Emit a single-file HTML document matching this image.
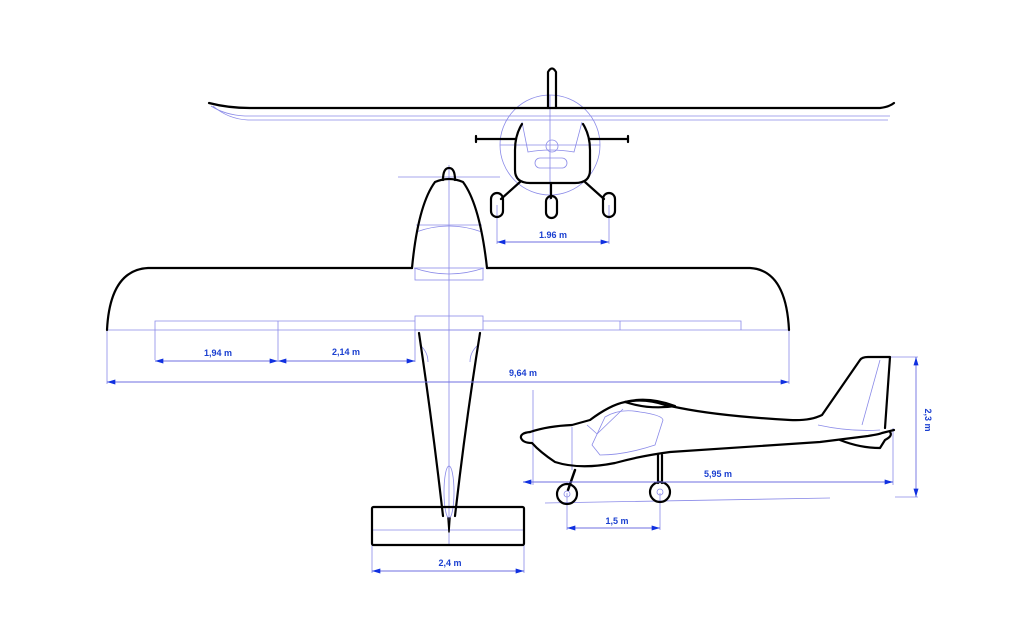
<!DOCTYPE html>
<html><head><meta charset="utf-8"><style>
html,body{margin:0;padding:0;background:#fff}
svg{display:block}
text{font-family:"Liberation Sans",sans-serif;font-weight:bold;font-size:9px;fill:#1a3fd0}
</style></head><body>
<svg width="1024" height="638" viewBox="0 0 1024 638" xmlns="http://www.w3.org/2000/svg">
<defs>
<marker id="a" viewBox="0 0 10 6" refX="10" refY="3" markerWidth="14" markerHeight="5" orient="auto-start-reverse" markerUnits="userSpaceOnUse"><path d="M0,0 L10,3 L0,6 Z" fill="#1030e0"/></marker>
</defs>
<g fill="none" stroke="#8a8ae8" stroke-width="0.8">
<circle cx="550" cy="145" r="50"/>
<path d="M211,106 Q225,115 245,116 L890,116"/>
<path d="M213,106 Q228,119 248,120 L888,120"/>
<line x1="550" y1="95" x2="550" y2="200"/>
<line x1="500" y1="145" x2="600" y2="145"/>
<circle cx="552" cy="146" r="6"/>
<rect x="535" y="158" width="32" height="10" rx="5"/>
<path d="M522,122 L528,152 Q550,148 574,152 L582,122"/>
<line x1="497" y1="205" x2="497" y2="244"/><line x1="609" y1="205" x2="609" y2="244"/>
<line x1="449" y1="165" x2="449" y2="545"/>
<line x1="398" y1="177" x2="500" y2="177"/>
<path d="M416,232 Q449,220 482,232"/>
<path d="M414,268 Q449,280 484,268"/>
<line x1="416" y1="225" x2="482" y2="225"/>
<rect x="415" y="268" width="68" height="12"/>
<line x1="107" y1="330" x2="789" y2="330"/>
<rect x="415" y="316" width="68" height="14"/>
<path d="M155,360 L155,321 L415,321"/><line x1="278" y1="321" x2="278" y2="360"/>
<path d="M483,321 L741,321 L741,330"/><line x1="620" y1="321" x2="620" y2="330"/>
<line x1="107" y1="330" x2="107" y2="384"/><line x1="789" y1="330" x2="789" y2="384"/>
<line x1="415" y1="330" x2="415" y2="362"/>
<ellipse cx="449" cy="492" rx="5" ry="26"/>
<line x1="372" y1="530" x2="524" y2="530"/>
<line x1="372" y1="545" x2="372" y2="573"/><line x1="524" y1="545" x2="524" y2="573"/>
<path d="M420,345 Q428,352 428,362"/><path d="M478,345 Q470,352 470,362"/>
<line x1="533" y1="390" x2="533" y2="485"/>
<line x1="893" y1="428" x2="893" y2="485"/>
<line x1="545" y1="503" x2="830" y2="498"/>
<line x1="890" y1="357" x2="918" y2="357"/><line x1="895" y1="497" x2="918" y2="497"/>
<line x1="567" y1="493" x2="567" y2="530"/><line x1="660" y1="493" x2="660" y2="530"/>
<path d="M572,427 L572,470"/>
<path d="M587,425 Q595,432 597,434 L623,409"/>
<path d="M600,455 L592,445 L605,417 Q620,408 640,412 Q662,415 663,420 L655,445 Q625,455 600,455 Z"/>
<path d="M818,425 Q850,432 880,430"/>
<path d="M880,360 L862,425"/>
</g>
<g fill="none" stroke="#000" stroke-width="2.2" stroke-linecap="round" stroke-linejoin="round">
<path d="M209,103 Q228,108 250,108 L880,108 Q889,107 894,103"/>
<path d="M548,108 L548,72 Q552,65 556,72 L556,108"/>
<path d="M522,124 Q515,135 515,150 L515,170 Q515,183 530,183 L575,183 Q590,183 590,170 L590,150 Q590,135 583,124"/>
<line x1="476" y1="139" x2="515" y2="139"/><line x1="590" y1="139" x2="628" y2="139"/>
<line x1="476" y1="136" x2="476" y2="142"/><line x1="628" y1="136" x2="628" y2="142"/>
<path d="M520,182 L501,199"/><path d="M585,182 L604,199"/><path d="M551,183 L551,198"/>
<rect x="491" y="193" width="12" height="24" rx="6"/>
<rect x="603" y="193" width="12" height="24" rx="6"/>
<rect x="546" y="196" width="11" height="22" rx="5.5"/>
<path d="M443,180 Q443,168 449,168 Q455,168 455,180"/>
<path d="M412,268 Q418,205 435,182 Q449,176 463,182 Q480,205 487,268"/>
<path d="M107,330 Q110,270 148,268 L412,268"/>
<path d="M487,268 L750,268 Q786,270 789,330"/>
<path d="M419,333 Q432,420 443,516"/><path d="M480,333 Q466,420 455,516"/>
<rect x="372" y="507" width="152" height="38" rx="1.5"/>
<path d="M448,518 L449,532 L450,518" stroke-width="1.5"/>
<path d="M530,432 Q520,433 521,438 Q523,443 532,443 Q540,452 555,462 Q580,470 615,463 Q640,456 670,452 L820,442 L868,436 Q880,434 882,433 L894,430"/>
<path d="M530,432 Q548,426 572,425 L590,420 Q610,405 625,402 Q645,398 665,405 L680,408 Q720,416 790,420 Q810,421 822,415 L860,360 Q862,357 868,357 L890,357 L885,428"/>
<path d="M625,402 Q648,396 675,406 Q650,410 625,402 Z"/>
<path d="M840,440 Q860,448 880,448 L885,440 Q893,436 890,432"/>
<path d="M575,470 L568,490" stroke-width="2.5"/>
<path d="M658,455 L658,483 M662,455 L662,483"/>
<circle cx="567" cy="494" r="10"/><circle cx="660" cy="492" r="10"/>
</g>
<g fill="none" stroke="#8a8ae8" stroke-width="0.8">
<circle cx="567" cy="494" r="3"/><circle cx="660" cy="492" r="3"/>
</g>
<g stroke="#6f6fe0" stroke-width="0.9" marker-start="url(#a)" marker-end="url(#a)">
<line x1="497" y1="242" x2="609" y2="242"/>
<line x1="155" y1="361" x2="278" y2="361"/>
<line x1="278" y1="361" x2="415" y2="361"/>
<line x1="107" y1="382" x2="789" y2="382"/>
<line x1="372" y1="571" x2="524" y2="571"/>
<line x1="523" y1="482" x2="893" y2="482"/>
<line x1="567" y1="528" x2="660" y2="528"/>
<line x1="916" y1="357" x2="916" y2="497"/>
</g>
<text x="553" y="238" text-anchor="middle">1.96 m</text>
<text x="218" y="356" text-anchor="middle">1,94 m</text>
<text x="346" y="355" text-anchor="middle">2,14 m</text>
<text x="523" y="376" text-anchor="middle">9,64 m</text>
<text x="450" y="566" text-anchor="middle">2,4 m</text>
<text x="718" y="477" text-anchor="middle">5,95 m</text>
<text x="617" y="524" text-anchor="middle">1,5 m</text>
<text x="0" y="0" text-anchor="middle" transform="translate(925,420) rotate(90)">2,3 m</text>
</svg>
</body></html>
